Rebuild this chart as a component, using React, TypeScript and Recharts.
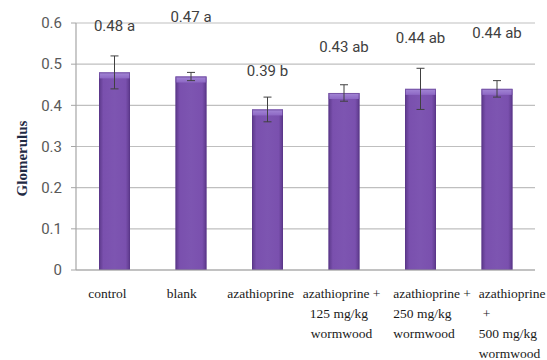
import React from "react";
import {
  BarChart,
  Bar,
  XAxis,
  YAxis,
  CartesianGrid,
  ErrorBar,
  LabelList,
  Label,
} from "recharts";

const GROUPS = [
  "control",
  "blank",
  "azathioprine",
  "azathioprine + 125 mg/kg wormwood",
  "azathioprine + 250 mg/kg wormwood",
  "azathioprine + 500 mg/kg wormwood",
];

// how each category label is broken into lines in the picture
const GROUP_LINES: string[][] = [
  ["control"],
  ["blank"],
  ["azathioprine"],
  ["azathioprine +", "125 mg/kg", "wormwood"],
  ["azathioprine +", "250 mg/kg", "wormwood"],
  ["azathioprine", "+", "500 mg/kg", "wormwood"],
];

const MEANS = [0.48, 0.47, 0.39, 0.43, 0.44, 0.44];
const ERRORS = [0.04, 0.01, 0.03, 0.02, 0.05, 0.02];
const LETTERS = ["a", "a", "b", "ab", "ab", "ab"];

const Y_TICKS = [0, 0.1, 0.2, 0.3, 0.4, 0.5, 0.6];
const EDGE_TICKS = [0, 1, 2, 3, 4, 5, 6];

const rows = GROUPS.map((g, i) => ({
  group: g,
  mean: MEANS[i],
  err: ERRORS[i],
  tag: `${MEANS[i]} ${LETTERS[i]}`,
}));

// layout tweaks, not data: how far each value label sits above its bar,
// and where each line of the category labels starts relative to the band centre
const LABEL_LIFT = [46, 60, 38, 46, 51, 56];
const LINE_DX: number[][] = [
  [-26],
  [-24],
  [-40],
  [-41, -34, -33],
  [-27, -27, -27],
  [-18, -14, -18, -18],
];

const SANS = "Roboto, 'Liberation Sans', sans-serif";
const SERIF = "'Liberation Serif', 'DejaVu Serif', serif";

const GroupTick = (props: any) => {
  const { x, y, payload } = props;
  const i = payload.index;
  const lines = GROUP_LINES[i] ?? [String(payload.value)];
  return (
    <g>
      {lines.map((ln, k) => (
        <text
          key={k}
          x={x + (LINE_DX[i]?.[k] ?? 0)}
          y={y + 26 + k * 20}
          textAnchor="start"
          fontFamily={SERIF}
          fontSize={13.5}
          fill="#1a1a1a"
        >
          {ln}
        </text>
      ))}
    </g>
  );
};

const BevelBar = (props: any) => {
  const { x, y, width, height } = props;
  if (!height || height <= 0) return null;
  const bevel = Math.min(6, height);
  return (
    <g>
      <rect x={x} y={y} width={width} height={height} fill="url(#barFace)" />
      <rect x={x} y={y} width={width} height={bevel} fill="url(#barTop)" />
      <rect
        x={x + 0.5}
        y={y + 0.5}
        width={width - 1}
        height={height - 1}
        fill="none"
        stroke="#5a3688"
        strokeOpacity={0.6}
      />
    </g>
  );
};

const ValueTag = (props: any) => {
  const { x, y, width, value, index } = props;
  return (
    <text
      x={x + width / 2}
      y={y - LABEL_LIFT[index] + 5}
      textAnchor="middle"
      fontFamily={SANS}
      fontSize={15}
      fill="#404040"
    >
      {value}
    </text>
  );
};

const AxisTitle = (props: any) => {
  const vb = props.viewBox ?? { x: 0, y: 0, width: 0, height: 0 };
  const cx = vb.x + 22;
  const cy = vb.y + vb.height / 2 + 12;
  return (
    <text
      x={cx}
      y={cy}
      transform={`rotate(-90 ${cx} ${cy})`}
      textAnchor="middle"
      dominantBaseline="central"
      fontFamily={SERIF}
      fontWeight="bold"
      fontSize={15}
      fill="#1f2a44"
    >
      Glomerulus
    </text>
  );
};

export default function App() {
  return (
    <div style={{ position: "fixed", left: 0, top: 0, background: "#fff" }}>
      <BarChart
        width={547}
        height={360}
        data={rows}
        margin={{ top: 23, right: 12, bottom: 0, left: 0 }}
      >
        <defs>
          <linearGradient id="barFace" x1="0" y1="0" x2="1" y2="0">
            <stop offset="0%" stopColor="#5b3889" />
            <stop offset="14%" stopColor="#7a50ae" />
            <stop offset="50%" stopColor="#7d55b1" />
            <stop offset="86%" stopColor="#7a50ae" />
            <stop offset="100%" stopColor="#5b3889" />
          </linearGradient>
          <linearGradient id="barTop" x1="0" y1="0" x2="0" y2="1">
            <stop offset="0%" stopColor="#a487d6" />
            <stop offset="100%" stopColor="#8d68c4" />
          </linearGradient>
        </defs>
        <CartesianGrid
          xAxisId="cat"
          vertical={false}
          stroke="#bfbfbf"
          strokeWidth={1.2}
        />
        <XAxis
          xAxisId="edges"
          type="number"
          domain={[0, 6]}
          ticks={EDGE_TICKS}
          tick={false}
          axisLine={false}
          tickLine={{ stroke: "#a6a6a6" }}
          tickSize={5}
          height={0}
        />
        <XAxis
          xAxisId="cat"
          dataKey="group"
          interval={0}
          tick={<GroupTick />}
          tickLine={false}
          tickSize={0}
          axisLine={{ stroke: "#a6a6a6", strokeWidth: 1.2 }}
          height={90}
        />
        <YAxis
          domain={[0, 0.6]}
          ticks={Y_TICKS}
          width={76}
          axisLine={{ stroke: "#a6a6a6", strokeWidth: 1.2 }}
          tickLine={{ stroke: "#a6a6a6" }}
          tickSize={5}
          tickMargin={9}
          tick={{ fontFamily: SANS, fontSize: 15, fill: "#595959" }}
        >
          <Label content={<AxisTitle />} />
        </YAxis>
        <Bar
          xAxisId="cat"
          dataKey="mean"
          barSize={31}
          shape={<BevelBar />}
          isAnimationActive={false}
        >
          <ErrorBar
            dataKey="err"
            width={4}
            stroke="#404040"
            strokeWidth={1}
            direction="y"
          />
          <LabelList dataKey="tag" content={<ValueTag />} />
        </Bar>
      </BarChart>
    </div>
  );
}
